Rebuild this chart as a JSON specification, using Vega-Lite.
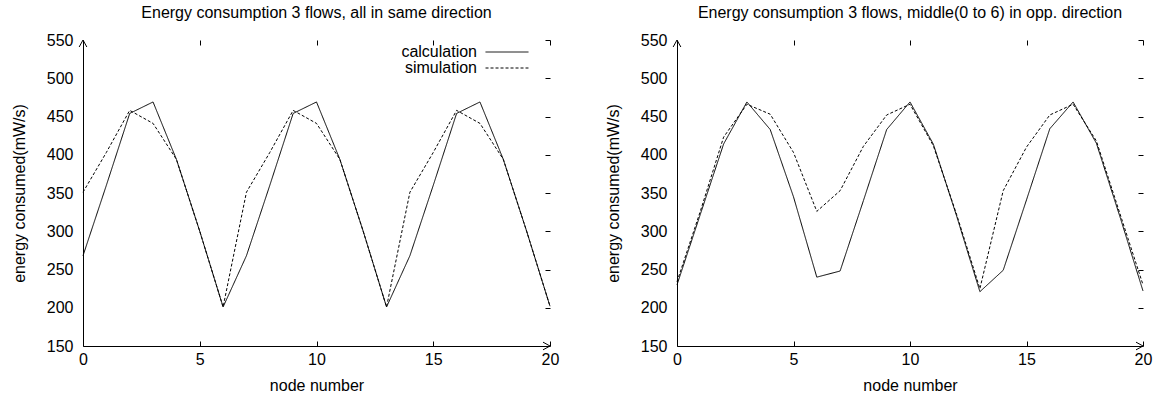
{
  "$schema": "https://vega.github.io/schema/vega-lite/v6.json",
  "padding": {"left": 11, "top": 5, "right": 5, "bottom": 5},
  "background": "white",
  "config": {
    "font": "Liberation Sans",
    "view": {"stroke": null},
    "axis": {"labelFont": "Liberation Sans", "titleFont": "Liberation Sans", "labelFontSize": 16, "titleFontSize": 16, "titleFontWeight": "normal", "labelColor": "black", "titleColor": "black", "domainColor": "black", "tickColor": "black", "grid": false, "labelFlush": false},
    "legend": {"labelFont": "Liberation Sans", "labelFontSize": 16, "labelColor": "black"},
    "title": {"font": "Liberation Sans", "fontSize": 16, "fontWeight": "normal", "color": "black", "offset": 11}
  },
  "datasets": {
    "left": [
      {"node": 0, "series": "calculation", "energy": 268}, {"node": 1, "series": "calculation", "energy": 360}, {"node": 2, "series": "calculation", "energy": 454}, {"node": 3, "series": "calculation", "energy": 469}, {"node": 4, "series": "calculation", "energy": 394}, {"node": 5, "series": "calculation", "energy": 300}, {"node": 6, "series": "calculation", "energy": 201}, {"node": 7, "series": "calculation", "energy": 268}, {"node": 8, "series": "calculation", "energy": 360}, {"node": 9, "series": "calculation", "energy": 454}, {"node": 10, "series": "calculation", "energy": 469}, {"node": 11, "series": "calculation", "energy": 394}, {"node": 12, "series": "calculation", "energy": 300}, {"node": 13, "series": "calculation", "energy": 201}, {"node": 14, "series": "calculation", "energy": 268}, {"node": 15, "series": "calculation", "energy": 360}, {"node": 16, "series": "calculation", "energy": 454}, {"node": 17, "series": "calculation", "energy": 469}, {"node": 18, "series": "calculation", "energy": 394}, {"node": 19, "series": "calculation", "energy": 300}, {"node": 20, "series": "calculation", "energy": 202},
      {"node": 0, "series": "simulation", "energy": 351}, {"node": 1, "series": "simulation", "energy": 403}, {"node": 2, "series": "simulation", "energy": 458}, {"node": 3, "series": "simulation", "energy": 441}, {"node": 4, "series": "simulation", "energy": 394}, {"node": 5, "series": "simulation", "energy": 300}, {"node": 6, "series": "simulation", "energy": 201}, {"node": 7, "series": "simulation", "energy": 351}, {"node": 8, "series": "simulation", "energy": 403}, {"node": 9, "series": "simulation", "energy": 458}, {"node": 10, "series": "simulation", "energy": 441}, {"node": 11, "series": "simulation", "energy": 394}, {"node": 12, "series": "simulation", "energy": 300}, {"node": 13, "series": "simulation", "energy": 201}, {"node": 14, "series": "simulation", "energy": 351}, {"node": 15, "series": "simulation", "energy": 403}, {"node": 16, "series": "simulation", "energy": 458}, {"node": 17, "series": "simulation", "energy": 441}, {"node": 18, "series": "simulation", "energy": 394}, {"node": 19, "series": "simulation", "energy": 300}, {"node": 20, "series": "simulation", "energy": 202}
    ],
    "right": [
      {"node": 0, "series": "calculation", "energy": 230}, {"node": 1, "series": "calculation", "energy": 322}, {"node": 2, "series": "calculation", "energy": 414}, {"node": 3, "series": "calculation", "energy": 469}, {"node": 4, "series": "calculation", "energy": 433}, {"node": 5, "series": "calculation", "energy": 345}, {"node": 6, "series": "calculation", "energy": 240}, {"node": 7, "series": "calculation", "energy": 248}, {"node": 8, "series": "calculation", "energy": 340}, {"node": 9, "series": "calculation", "energy": 433}, {"node": 10, "series": "calculation", "energy": 469}, {"node": 11, "series": "calculation", "energy": 414}, {"node": 12, "series": "calculation", "energy": 320}, {"node": 13, "series": "calculation", "energy": 221}, {"node": 14, "series": "calculation", "energy": 249}, {"node": 15, "series": "calculation", "energy": 341}, {"node": 16, "series": "calculation", "energy": 434}, {"node": 17, "series": "calculation", "energy": 469}, {"node": 18, "series": "calculation", "energy": 415}, {"node": 19, "series": "calculation", "energy": 320}, {"node": 20, "series": "calculation", "energy": 222},
      {"node": 0, "series": "simulation", "energy": 234}, {"node": 1, "series": "simulation", "energy": 326}, {"node": 2, "series": "simulation", "energy": 423}, {"node": 3, "series": "simulation", "energy": 466}, {"node": 4, "series": "simulation", "energy": 453}, {"node": 5, "series": "simulation", "energy": 403}, {"node": 6, "series": "simulation", "energy": 326}, {"node": 7, "series": "simulation", "energy": 353}, {"node": 8, "series": "simulation", "energy": 411}, {"node": 9, "series": "simulation", "energy": 452}, {"node": 10, "series": "simulation", "energy": 466}, {"node": 11, "series": "simulation", "energy": 412}, {"node": 12, "series": "simulation", "energy": 322}, {"node": 13, "series": "simulation", "energy": 225}, {"node": 14, "series": "simulation", "energy": 353}, {"node": 15, "series": "simulation", "energy": 410}, {"node": 16, "series": "simulation", "energy": 452}, {"node": 17, "series": "simulation", "energy": 466}, {"node": 18, "series": "simulation", "energy": 418}, {"node": 19, "series": "simulation", "energy": 324}, {"node": 20, "series": "simulation", "energy": 230}
    ],
    "arrows": [
      {"node": 0, "energy": 550, "dir": "up"},
      {"node": 20, "energy": 150, "dir": "right"}
    ]
  },
  "hconcat": [
    {
      "title": "Energy consumption 3 flows, all in same direction",
      "width": 467,
      "height": 306,
      "resolve": {"axis": {"x": "independent", "y": "independent"}},
      "layer": [
        {
          "data": {"name": "left"},
          "mark": {"type": "line", "color": "black", "strokeWidth": 1},
          "encoding": {
            "x": {"field": "node", "type": "quantitative", "scale": {"domain": [0, 20], "nice": false, "zero": false}, "axis": {"title": "node number", "values": [0, 5, 10, 15, 20], "tickSize": -5, "labelPadding": 10, "titlePadding": 10, "domainWidth": 1}},
            "y": {"field": "energy", "type": "quantitative", "scale": {"domain": [150, 550], "nice": false, "zero": false}, "axis": {"title": "energy consumed(mW/s)", "values": [150, 200, 250, 300, 350, 400, 450, 500, 550], "ticks": false, "labelPadding": 10, "titlePadding": 19, "domainWidth": 1}},
            "strokeDash": {"field": "series", "type": "nominal", "scale": {"domain": ["calculation", "simulation"], "range": [[1, 0], [3, 2]]}, "legend": {"title": null, "orient": "none", "legendX": 416, "legendY": 4, "symbolType": "M -3 0 L 3 0", "symbolSize": 205, "symbolStrokeColor": "black", "symbolStrokeWidth": 1, "labelAlign": "right", "labelOffset": -38, "rowPadding": 0}}
          }
        },
        {
          "data": {"name": "left"},
          "mark": {"type": "point", "opacity": 0},
          "encoding": {
            "x": {"field": "node", "type": "quantitative", "axis": {"orient": "top", "title": null, "labels": false, "domain": false, "values": [5, 10, 15, 20], "tickSize": -5}},
            "y": {"field": "energy", "type": "quantitative", "axis": {"orient": "right", "title": null, "labels": false, "domain": false, "values": [200, 250, 300, 350, 400, 450, 500, 550], "tickSize": -5}}
          }
        },
        {
          "data": {"name": "arrows"},
          "mark": {"type": "point", "filled": false, "color": "black", "strokeWidth": 1, "opacity": 1, "size": 196},
          "encoding": {
            "x": {"field": "node", "type": "quantitative", "axis": null},
            "y": {"field": "energy", "type": "quantitative", "axis": null},
            "shape": {"field": "dir", "type": "nominal", "scale": {"domain": ["up", "right"], "range": ["M -0.55 1 L 0 0 L 0.55 1", "M -1 -0.55 L 0 0 L -1 0.55"]}, "legend": null}
          }
        }
      ]
    },
    {
      "title": "Energy consumption 3 flows, middle(0 to 6) in opp. direction",
      "width": 466,
      "height": 306,
      "resolve": {"axis": {"x": "independent", "y": "independent"}},
      "layer": [
        {
          "data": {"name": "right"},
          "mark": {"type": "line", "color": "black", "strokeWidth": 1},
          "encoding": {
            "x": {"field": "node", "type": "quantitative", "scale": {"domain": [0, 20], "nice": false, "zero": false}, "axis": {"title": "node number", "values": [0, 5, 10, 15, 20], "tickSize": -5, "labelPadding": 10, "titlePadding": 10, "domainWidth": 1}},
            "y": {"field": "energy", "type": "quantitative", "scale": {"domain": [150, 550], "nice": false, "zero": false}, "axis": {"title": "energy consumed(mW/s)", "values": [150, 200, 250, 300, 350, 400, 450, 500, 550], "ticks": false, "labelPadding": 10, "titlePadding": 19, "domainWidth": 1}},
            "strokeDash": {"field": "series", "type": "nominal", "scale": {"domain": ["calculation", "simulation"], "range": [[1, 0], [3, 2]]}, "legend": {"title": null, "orient": "none", "legendX": 415, "legendY": 4, "symbolType": "M -3 0 L 3 0", "symbolSize": 205, "symbolStrokeColor": "black", "symbolStrokeWidth": 1, "labelAlign": "right", "labelOffset": -38, "rowPadding": 0}}
          }
        },
        {
          "data": {"name": "right"},
          "mark": {"type": "point", "opacity": 0},
          "encoding": {
            "x": {"field": "node", "type": "quantitative", "axis": {"orient": "top", "title": null, "labels": false, "domain": false, "values": [5, 10, 15, 20], "tickSize": -5}},
            "y": {"field": "energy", "type": "quantitative", "axis": {"orient": "right", "title": null, "labels": false, "domain": false, "values": [200, 250, 300, 350, 400, 450, 500, 550], "tickSize": -5}}
          }
        },
        {
          "data": {"name": "arrows"},
          "mark": {"type": "point", "filled": false, "color": "black", "strokeWidth": 1, "opacity": 1, "size": 196},
          "encoding": {
            "x": {"field": "node", "type": "quantitative", "axis": null},
            "y": {"field": "energy", "type": "quantitative", "axis": null},
            "shape": {"field": "dir", "type": "nominal", "scale": {"domain": ["up", "right"], "range": ["M -0.55 1 L 0 0 L 0.55 1", "M -1 -0.55 L 0 0 L -1 0.55"]}, "legend": null}
          }
        }
      ]
    }
  ],
  "spacing": 127,
  "bounds": "flush"
}
